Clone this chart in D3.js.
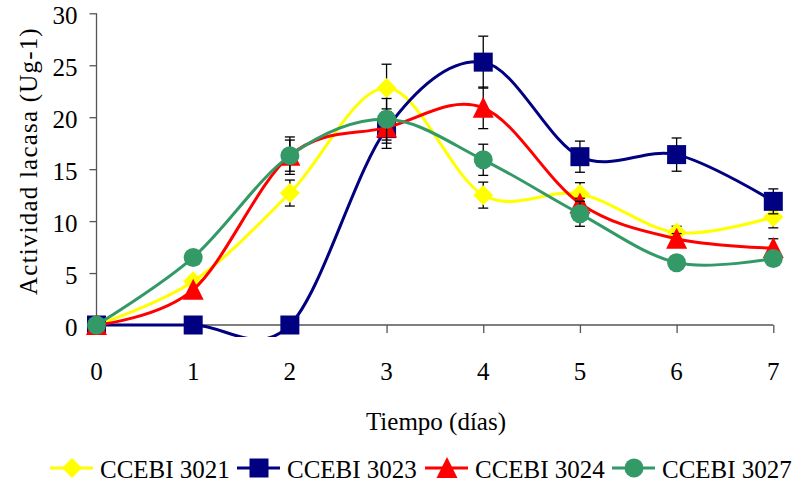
<!DOCTYPE html>
<html>
<head>
<meta charset="utf-8">
<script src="https://cdn.jsdelivr.net/npm/d3@7"></script>
<style>
  body { margin: 0; background: #fff; }
  svg text { font-family: "Liberation Serif", "Times New Roman", "DejaVu Serif", serif; }
</style>
</head>
<body>
<div class="container"></div>
<script>
const days = [0, 1, 2, 3, 4, 5, 6, 7];
const yTicks = [0, 5, 10, 15, 20, 25, 30];

const cc3021 = [0, 4.2, 12.7, 22.8, 12.5, 12.6, 8.9, 10.4];
const err3021 = [0, 0, 1.25, 2.3, 1.25, 1.1, 0.6, 1.05];
const cc3023 = [0, 0, 0, 18.9, 25.3, 16.2, 16.4, 11.9];
const err3023 = [0, 0, 0, 1.9, 2.5, 1.5, 1.6, 1.2];
const cc3024 = [0, 3.4, 16.3, 19.0, 20.9, 11.7, 8.3, 7.4];
const err3024 = [0, 0, 1.8, 1.5, 2.0, 0.5, 0.5, 0.9];
const cc3027 = [0, 6.5, 16.3, 19.8, 15.9, 10.7, 6.0, 6.4];
const err3027 = [0, 0, 1.5, 2.0, 1.5, 1.2, 0.4, 0.4];

const seriesNames = ['CCEBI 3021', 'CCEBI 3023', 'CCEBI 3024', 'CCEBI 3027'];
const seriesColors = ['#ffff00', '#000080', '#ff0000', '#339966'];
const seriesSymbols = ['diamond', 'square', 'triangle', 'circle'];

const series = [
  { values: cc3021, errors: err3021 },
  { values: cc3023, errors: err3023 },
  { values: cc3024, errors: err3024 },
  { values: cc3027, errors: err3027 }
].map((s, i) => ({ ...s, name: seriesNames[i], color: seriesColors[i], symbol: seriesSymbols[i] }));

const width = 801;
const height = 487;
const plotLeft = 96.5;
const plotRight = 773.3;
const plotTop = 13.3;
const plotBottom = 325;
const serif = '"Liberation Serif", "Times New Roman", "DejaVu Serif", serif';

const svg = d3.select('.container').append('svg').attr('width', width).attr('height', height);

const xScale = d3.scaleLinear().domain([0, 7]).range([plotLeft, plotRight]);
const yScale = d3.scaleLinear().domain([0, 30]).range([plotBottom, plotTop]);

const drawMarker = (g, symbol, color, cx, cy) => {
  if (symbol === 'diamond') {
    g.append('path').attr('d', `M${cx},${cy - 10}L${cx + 10},${cy}L${cx},${cy + 10}L${cx - 10},${cy}Z`).attr('fill', color);
  } else if (symbol === 'square') {
    g.append('rect').attr('x', cx - 9.5).attr('y', cy - 9.5).attr('width', 19).attr('height', 19).attr('fill', color);
  } else if (symbol === 'triangle') {
    g.append('path').attr('d', `M${cx},${cy - 11}L${cx + 10.5},${cy + 10}L${cx - 10.5},${cy + 10}Z`).attr('fill', color);
  } else {
    g.append('circle').attr('cx', cx).attr('cy', cy).attr('r', 9.5).attr('fill', color);
  }
};

// axes
const leftAxis = d3.axisLeft(yScale).tickValues(yTicks).tickSize(7).tickPadding(12);
const leftAxisGroup = svg.append('g').attr('class', 'left-axis').attr('transform', `translate(${plotLeft},0)`);
leftAxis(leftAxisGroup);

const bottomAxis = d3.axisBottom(xScale).tickValues(days.slice(1)).tickSize(8).tickFormat(() => '');
const bottomAxisGroup = svg.append('g').attr('class', 'bottom-axis').attr('transform', `translate(0,${plotBottom})`);
bottomAxis(bottomAxisGroup);

svg.selectAll('.domain').attr('stroke', '#555').attr('stroke-width', 1.3);
svg.selectAll('.tick line').attr('stroke', '#555').attr('stroke-width', 1.3);
leftAxisGroup.select('.domain').attr('d', `M-0,${plotTop}V${plotBottom}`);
bottomAxisGroup.select('.domain').attr('d', `M${plotLeft},0H${plotRight}`);
leftAxisGroup.attr('font-family', serif).attr('font-size', 25);
leftAxisGroup.selectAll('.tick text').attr('fill', '#000').attr('dy', '0.42em');

svg
  .append('g')
  .attr('class', 'x-labels')
  .selectAll('text')
  .data(days)
  .enter()
  .append('text')
  .attr('x', d => xScale(d))
  .attr('y', 380)
  .attr('text-anchor', 'middle')
  .attr('font-family', serif)
  .attr('font-size', 25)
  .text(d => d);

// clip
svg
  .append('clipPath')
  .attr('id', 'plot-clip')
  .append('rect')
  .attr('x', plotLeft)
  .attr('y', 0)
  .attr('width', plotRight - plotLeft + 20)
  .attr('height', 337);

const line = d3
  .line()
  .x((d, i) => xScale(days[i]))
  .y(d => yScale(d))
  .curve(d3.curveCardinal.tension(0));

const seriesGroup = svg.append('g').attr('class', 'series');

series.forEach(s => {
  const g = seriesGroup.append('g');
  g.append('path')
    .attr('d', line(s.values))
    .attr('fill', 'none')
    .attr('stroke', s.color)
    .attr('stroke-width', 3)
    .attr('clip-path', 'url(#plot-clip)');

  // error bars
  s.values.forEach((v, i) => {
    const e = s.errors[i];
    if (!e) return;
    const x = xScale(days[i]);
    const y0 = yScale(v - e);
    const y1 = yScale(v + e);
    g.append('line').attr('x1', x).attr('x2', x).attr('y1', y0).attr('y2', y1).attr('stroke', '#000').attr('stroke-width', 1.3);
    g.append('line').attr('x1', x - 5).attr('x2', x + 5).attr('y1', y0).attr('y2', y0).attr('stroke', '#000').attr('stroke-width', 1.3);
    g.append('line').attr('x1', x - 5).attr('x2', x + 5).attr('y1', y1).attr('y2', y1).attr('stroke', '#000').attr('stroke-width', 1.3);
  });

  s.values.forEach((v, i) => drawMarker(g, s.symbol, s.color, xScale(days[i]), yScale(v)));
});

// axis titles
svg
  .append('text')
  .text('Tiempo (días)')
  .attr('x', 436)
  .attr('y', 430)
  .attr('text-anchor', 'middle')
  .attr('font-family', serif)
  .attr('font-size', 25);

svg
  .append('text')
  .text('Actividad lacasa (Ug-1)')
  .attr('transform', 'translate(37,161) rotate(-90)')
  .attr('text-anchor', 'middle')
  .attr('font-family', serif)
  .attr('font-size', 25)
  .attr('letter-spacing', 1.2);

// legend
const legendX = [50, 237, 425, 612];
const legend = svg.append('g').attr('class', 'legend');
series.forEach((s, i) => {
  const g = legend.append('g');
  const x0 = legendX[i];
  g.append('line').attr('x1', x0).attr('x2', x0 + 43).attr('y1', 468).attr('y2', 468).attr('stroke', s.color).attr('stroke-width', 3);
  drawMarker(g, s.symbol, s.color, x0 + 22, 468);
  g.append('text').text(s.name).attr('x', x0 + 50).attr('y', 478).attr('font-family', serif).attr('font-size', 25);
});
</script>
</body>
</html>
